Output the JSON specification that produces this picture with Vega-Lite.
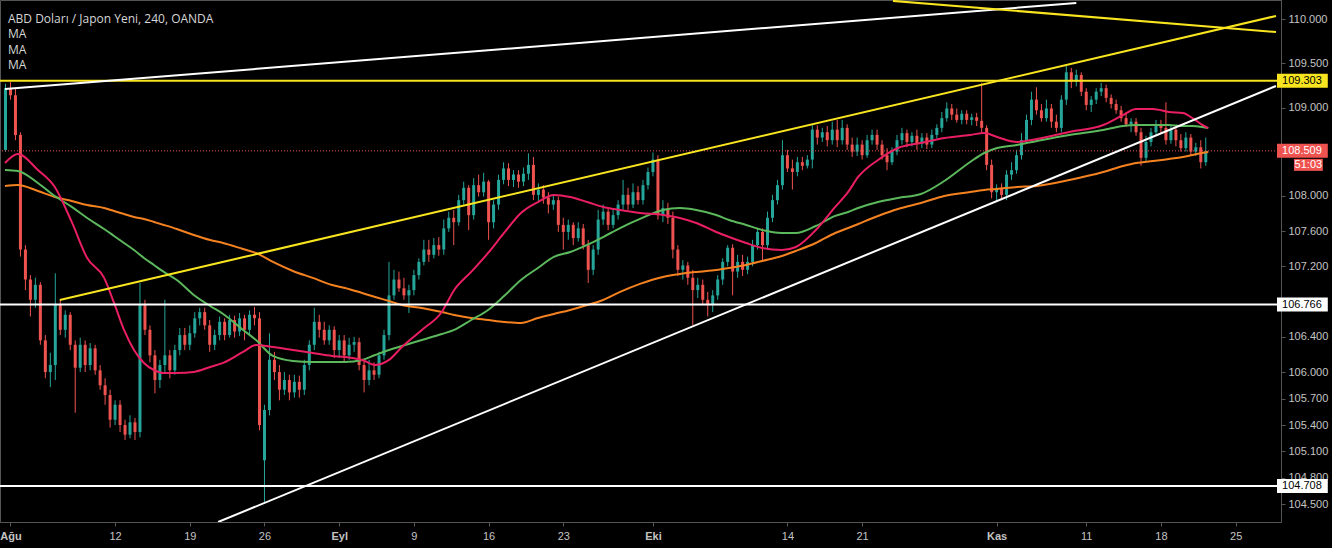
{
"$schema": "https://vega.github.io/schema/vega-lite/v6.json",
"width": 1281,
"height": 522,
"autosize": {"type": "none"},
"padding": {"left": 0, "top": 0, "right": 51, "bottom": 26},
"background": "#000000",
"title": {"text": "ABD Doları / Japon Yeni, 240, OANDA", "subtitle": ["MA", "MA", "MA"], "anchor": "start", "frame": "group", "orient": "top", "offset": -72, "dx": 8, "color": "#d6d6d6", "subtitleColor": "#d6d6d6", "font": "Open Sans", "subtitleFont": "Open Sans", "fontSize": 12, "subtitleFontSize": 12, "fontWeight": "normal", "subtitleLineHeight": 15.5, "subtitlePadding": 3},
"datasets": {
"bars": [
{"i":-1,"o":108.52,"h":109.27,"l":108.50,"c":109.22},
{"i":0,"o":109.22,"h":109.29,"l":109.09,"c":109.14},
{"i":1,"o":109.14,"h":109.22,"l":108.63,"c":108.69},
{"i":2,"o":108.69,"h":108.72,"l":107.31,"c":107.39},
{"i":3,"o":107.39,"h":107.44,"l":106.93,"c":107.05},
{"i":4,"o":107.05,"h":107.10,"l":106.63,"c":106.82},
{"i":5,"o":106.82,"h":107.07,"l":106.73,"c":106.99},
{"i":6,"o":106.99,"h":107.02,"l":106.31,"c":106.36},
{"i":7,"o":106.36,"h":106.42,"l":105.93,"c":106.00},
{"i":8,"o":106.00,"h":106.22,"l":105.83,"c":106.08},
{"i":9,"o":106.08,"h":107.12,"l":105.91,"c":106.76},
{"i":10,"o":106.76,"h":106.82,"l":106.42,"c":106.48},
{"i":11,"o":106.48,"h":106.70,"l":106.39,"c":106.65},
{"i":12,"o":106.65,"h":106.68,"l":106.25,"c":106.31},
{"i":13,"o":106.31,"h":106.36,"l":105.54,"c":106.05},
{"i":14,"o":106.05,"h":106.39,"l":106.00,"c":106.31},
{"i":15,"o":106.31,"h":106.36,"l":106.00,"c":106.08},
{"i":16,"o":106.08,"h":106.33,"l":106.02,"c":106.27},
{"i":17,"o":106.27,"h":106.31,"l":105.97,"c":106.02},
{"i":18,"o":106.02,"h":106.08,"l":105.80,"c":105.85},
{"i":19,"o":105.85,"h":105.93,"l":105.63,"c":105.74},
{"i":20,"o":105.74,"h":105.80,"l":105.37,"c":105.46},
{"i":21,"o":105.46,"h":105.68,"l":105.40,"c":105.63},
{"i":22,"o":105.63,"h":105.68,"l":105.32,"c":105.40},
{"i":23,"o":105.40,"h":105.46,"l":105.23,"c":105.29},
{"i":24,"o":105.29,"h":105.51,"l":105.25,"c":105.43},
{"i":25,"o":105.43,"h":105.48,"l":105.23,"c":105.32},
{"i":26,"o":105.32,"h":107.01,"l":105.26,"c":106.76},
{"i":27,"o":106.76,"h":106.82,"l":106.42,"c":106.48},
{"i":28,"o":106.48,"h":106.53,"l":106.11,"c":106.19},
{"i":29,"o":106.19,"h":106.25,"l":105.76,"c":105.91},
{"i":30,"o":105.91,"h":106.14,"l":105.82,"c":106.08},
{"i":31,"o":106.08,"h":106.82,"l":106.00,"c":106.19},
{"i":32,"o":106.19,"h":106.25,"l":105.93,"c":106.02},
{"i":33,"o":106.02,"h":106.31,"l":105.97,"c":106.25},
{"i":34,"o":106.25,"h":106.50,"l":106.19,"c":106.42},
{"i":35,"o":106.42,"h":106.50,"l":106.25,"c":106.31},
{"i":36,"o":106.31,"h":106.53,"l":106.25,"c":106.44},
{"i":37,"o":106.44,"h":106.68,"l":106.39,"c":106.61},
{"i":38,"o":106.61,"h":106.73,"l":106.53,"c":106.68},
{"i":39,"o":106.68,"h":106.73,"l":106.48,"c":106.53},
{"i":40,"o":106.53,"h":106.59,"l":106.23,"c":106.31},
{"i":41,"o":106.31,"h":106.48,"l":106.25,"c":106.42},
{"i":42,"o":106.42,"h":106.63,"l":106.36,"c":106.57},
{"i":43,"o":106.57,"h":106.61,"l":106.36,"c":106.42},
{"i":44,"o":106.42,"h":106.65,"l":106.39,"c":106.59},
{"i":45,"o":106.59,"h":106.64,"l":106.39,"c":106.46},
{"i":46,"o":106.46,"h":106.67,"l":106.41,"c":106.61},
{"i":47,"o":106.61,"h":106.65,"l":106.36,"c":106.48},
{"i":48,"o":106.48,"h":106.70,"l":106.43,"c":106.65},
{"i":49,"o":106.65,"h":106.74,"l":106.53,"c":106.61},
{"i":50,"o":106.61,"h":106.68,"l":105.34,"c":105.40},
{"i":51,"o":105.00,"h":105.63,"l":104.52,"c":105.57},
{"i":52,"o":105.57,"h":106.44,"l":105.51,"c":106.14},
{"i":53,"o":106.14,"h":106.23,"l":105.91,"c":106.00},
{"i":54,"o":106.00,"h":106.08,"l":105.68,"c":105.80},
{"i":55,"o":105.80,"h":106.00,"l":105.74,"c":105.91},
{"i":56,"o":105.91,"h":105.97,"l":105.68,"c":105.77},
{"i":57,"o":105.77,"h":105.97,"l":105.71,"c":105.89},
{"i":58,"o":105.89,"h":105.96,"l":105.71,"c":105.80},
{"i":59,"o":105.80,"h":106.14,"l":105.74,"c":106.08},
{"i":60,"o":106.08,"h":106.36,"l":106.02,"c":106.31},
{"i":61,"o":106.31,"h":106.73,"l":106.25,"c":106.57},
{"i":62,"o":106.57,"h":106.65,"l":106.39,"c":106.48},
{"i":63,"o":106.48,"h":106.57,"l":106.31,"c":106.36},
{"i":64,"o":106.36,"h":106.53,"l":106.31,"c":106.48},
{"i":65,"o":106.48,"h":106.52,"l":106.16,"c":106.25},
{"i":66,"o":106.25,"h":106.42,"l":106.16,"c":106.36},
{"i":67,"o":106.36,"h":106.42,"l":106.11,"c":106.19},
{"i":68,"o":106.19,"h":106.39,"l":106.14,"c":106.31},
{"i":69,"o":106.31,"h":106.40,"l":106.23,"c":106.34},
{"i":70,"o":106.34,"h":106.39,"l":106.02,"c":106.08},
{"i":71,"o":106.08,"h":106.14,"l":105.77,"c":105.91},
{"i":72,"o":105.91,"h":106.14,"l":105.85,"c":106.02},
{"i":73,"o":106.02,"h":106.11,"l":105.91,"c":105.97},
{"i":74,"o":105.97,"h":106.23,"l":105.93,"c":106.19},
{"i":75,"o":106.19,"h":106.48,"l":106.14,"c":106.42},
{"i":76,"o":106.42,"h":107.25,"l":106.36,"c":106.87},
{"i":77,"o":106.87,"h":107.16,"l":106.82,"c":107.05},
{"i":78,"o":107.05,"h":107.14,"l":106.91,"c":106.95},
{"i":79,"o":106.95,"h":107.07,"l":106.82,"c":106.87},
{"i":80,"o":106.87,"h":106.99,"l":106.67,"c":106.93},
{"i":81,"o":106.93,"h":107.16,"l":106.87,"c":107.10},
{"i":82,"o":107.10,"h":107.29,"l":107.05,"c":107.25},
{"i":83,"o":107.25,"h":107.50,"l":107.21,"c":107.39},
{"i":84,"o":107.39,"h":107.50,"l":107.25,"c":107.33},
{"i":85,"o":107.33,"h":107.52,"l":107.29,"c":107.44},
{"i":86,"o":107.44,"h":107.53,"l":107.32,"c":107.39},
{"i":87,"o":107.39,"h":107.73,"l":107.33,"c":107.63},
{"i":88,"o":107.63,"h":107.82,"l":107.59,"c":107.75},
{"i":89,"o":107.75,"h":107.84,"l":107.44,"c":107.70},
{"i":90,"o":107.70,"h":108.01,"l":107.66,"c":107.95},
{"i":91,"o":107.95,"h":108.16,"l":107.90,"c":108.09},
{"i":92,"o":108.09,"h":108.12,"l":107.61,"c":107.78},
{"i":93,"o":107.78,"h":108.20,"l":107.73,"c":108.12},
{"i":94,"o":108.12,"h":108.24,"l":107.99,"c":108.04},
{"i":95,"o":108.04,"h":108.26,"l":107.99,"c":108.16},
{"i":96,"o":108.16,"h":108.18,"l":107.50,"c":107.70},
{"i":97,"o":107.70,"h":107.95,"l":107.63,"c":107.90},
{"i":98,"o":107.90,"h":108.24,"l":107.84,"c":108.18},
{"i":99,"o":108.18,"h":108.38,"l":108.13,"c":108.31},
{"i":100,"o":108.31,"h":108.37,"l":108.11,"c":108.18},
{"i":101,"o":108.18,"h":108.29,"l":108.10,"c":108.24},
{"i":102,"o":108.24,"h":108.29,"l":108.09,"c":108.16},
{"i":103,"o":108.16,"h":108.32,"l":108.11,"c":108.25},
{"i":104,"o":108.25,"h":108.48,"l":108.18,"c":108.35},
{"i":105,"o":108.35,"h":108.44,"l":107.95,"c":108.01},
{"i":106,"o":108.01,"h":108.14,"l":107.92,"c":108.07},
{"i":107,"o":108.07,"h":108.12,"l":107.91,"c":107.98},
{"i":108,"o":107.98,"h":108.04,"l":107.80,"c":107.90},
{"i":109,"o":107.90,"h":108.00,"l":107.84,"c":107.95},
{"i":110,"o":107.95,"h":107.99,"l":107.59,"c":107.67},
{"i":111,"o":107.67,"h":107.75,"l":107.39,"c":107.59},
{"i":112,"o":107.59,"h":107.73,"l":107.50,"c":107.67},
{"i":113,"o":107.67,"h":107.70,"l":107.44,"c":107.52},
{"i":114,"o":107.52,"h":107.70,"l":107.48,"c":107.63},
{"i":115,"o":107.63,"h":107.68,"l":107.39,"c":107.44},
{"i":116,"o":107.44,"h":107.50,"l":107.01,"c":107.16},
{"i":117,"o":107.16,"h":107.44,"l":107.10,"c":107.39},
{"i":118,"o":107.39,"h":107.84,"l":107.33,"c":107.73},
{"i":119,"o":107.73,"h":107.90,"l":107.67,"c":107.82},
{"i":120,"o":107.82,"h":107.86,"l":107.61,"c":107.67},
{"i":121,"o":107.67,"h":107.86,"l":107.63,"c":107.78},
{"i":122,"o":107.78,"h":107.95,"l":107.73,"c":107.90},
{"i":123,"o":107.90,"h":108.18,"l":107.84,"c":108.01},
{"i":124,"o":108.01,"h":108.09,"l":107.84,"c":107.90},
{"i":125,"o":107.90,"h":108.14,"l":107.86,"c":108.04},
{"i":126,"o":108.04,"h":108.11,"l":107.90,"c":107.95},
{"i":127,"o":107.95,"h":108.18,"l":107.90,"c":108.12},
{"i":128,"o":108.12,"h":108.32,"l":108.07,"c":108.27},
{"i":129,"o":108.27,"h":108.49,"l":108.22,"c":108.41},
{"i":130,"o":108.41,"h":108.46,"l":107.73,"c":107.78},
{"i":131,"o":107.78,"h":107.95,"l":107.70,"c":107.86},
{"i":132,"o":107.86,"h":107.92,"l":107.68,"c":107.75},
{"i":133,"o":107.75,"h":107.82,"l":107.29,"c":107.39},
{"i":134,"o":107.39,"h":107.44,"l":107.09,"c":107.16},
{"i":135,"o":107.16,"h":107.27,"l":107.05,"c":107.21},
{"i":136,"o":107.21,"h":107.25,"l":106.99,"c":107.07},
{"i":137,"o":107.07,"h":107.16,"l":106.53,"c":106.93},
{"i":138,"o":106.93,"h":107.07,"l":106.84,"c":106.99},
{"i":139,"o":106.99,"h":107.05,"l":106.76,"c":106.82},
{"i":140,"o":106.82,"h":106.91,"l":106.63,"c":106.76},
{"i":141,"o":106.76,"h":106.93,"l":106.68,"c":106.87},
{"i":142,"o":106.87,"h":107.10,"l":106.82,"c":107.05},
{"i":143,"o":107.05,"h":107.29,"l":106.99,"c":107.25},
{"i":144,"o":107.25,"h":107.44,"l":107.20,"c":107.41},
{"i":145,"o":107.41,"h":107.45,"l":106.87,"c":107.14},
{"i":146,"o":107.14,"h":107.33,"l":107.07,"c":107.25},
{"i":147,"o":107.25,"h":107.33,"l":107.09,"c":107.16},
{"i":148,"o":107.16,"h":107.31,"l":107.11,"c":107.25},
{"i":149,"o":107.25,"h":107.50,"l":107.20,"c":107.44},
{"i":150,"o":107.44,"h":107.63,"l":107.39,"c":107.59},
{"i":151,"o":107.59,"h":107.63,"l":107.25,"c":107.44},
{"i":152,"o":107.44,"h":107.82,"l":107.39,"c":107.75},
{"i":153,"o":107.75,"h":108.01,"l":107.70,"c":107.95},
{"i":154,"o":107.95,"h":108.18,"l":107.90,"c":108.12},
{"i":155,"o":108.12,"h":108.63,"l":108.07,"c":108.46},
{"i":156,"o":108.46,"h":108.52,"l":108.27,"c":108.31},
{"i":157,"o":108.31,"h":108.41,"l":108.07,"c":108.27},
{"i":158,"o":108.27,"h":108.44,"l":108.22,"c":108.38},
{"i":159,"o":108.38,"h":108.44,"l":108.29,"c":108.34},
{"i":160,"o":108.34,"h":108.46,"l":108.31,"c":108.41},
{"i":161,"o":108.41,"h":108.80,"l":108.31,"c":108.75},
{"i":162,"o":108.75,"h":108.80,"l":108.58,"c":108.66},
{"i":163,"o":108.66,"h":108.77,"l":108.61,"c":108.72},
{"i":164,"o":108.72,"h":108.79,"l":108.56,"c":108.63},
{"i":165,"o":108.63,"h":108.84,"l":108.58,"c":108.75},
{"i":166,"o":108.75,"h":108.86,"l":108.55,"c":108.63},
{"i":167,"o":108.63,"h":108.86,"l":108.58,"c":108.77},
{"i":168,"o":108.77,"h":108.81,"l":108.52,"c":108.58},
{"i":169,"o":108.58,"h":108.66,"l":108.44,"c":108.50},
{"i":170,"o":108.50,"h":108.66,"l":108.45,"c":108.58},
{"i":171,"o":108.58,"h":108.63,"l":108.41,"c":108.46},
{"i":172,"o":108.46,"h":108.69,"l":108.43,"c":108.63},
{"i":173,"o":108.63,"h":108.75,"l":108.58,"c":108.69},
{"i":174,"o":108.69,"h":108.75,"l":108.52,"c":108.58},
{"i":175,"o":108.58,"h":108.63,"l":108.41,"c":108.46},
{"i":176,"o":108.46,"h":108.54,"l":108.29,"c":108.38},
{"i":177,"o":108.38,"h":108.55,"l":108.35,"c":108.50},
{"i":178,"o":108.50,"h":108.69,"l":108.46,"c":108.63},
{"i":179,"o":108.63,"h":108.77,"l":108.58,"c":108.71},
{"i":180,"o":108.71,"h":108.75,"l":108.55,"c":108.61},
{"i":181,"o":108.61,"h":108.72,"l":108.56,"c":108.68},
{"i":182,"o":108.68,"h":108.75,"l":108.52,"c":108.59},
{"i":183,"o":108.59,"h":108.71,"l":108.54,"c":108.66},
{"i":184,"o":108.66,"h":108.71,"l":108.53,"c":108.58},
{"i":185,"o":108.58,"h":108.75,"l":108.54,"c":108.69},
{"i":186,"o":108.69,"h":108.81,"l":108.65,"c":108.77},
{"i":187,"o":108.77,"h":108.95,"l":108.72,"c":108.88},
{"i":188,"o":108.88,"h":109.06,"l":108.84,"c":108.99},
{"i":189,"o":108.99,"h":109.04,"l":108.86,"c":108.92},
{"i":190,"o":108.92,"h":108.99,"l":108.83,"c":108.86},
{"i":191,"o":108.86,"h":108.97,"l":108.81,"c":108.93},
{"i":192,"o":108.93,"h":108.97,"l":108.81,"c":108.86},
{"i":193,"o":108.86,"h":108.93,"l":108.80,"c":108.89},
{"i":194,"o":108.89,"h":108.94,"l":108.79,"c":108.85},
{"i":195,"o":108.85,"h":109.28,"l":108.72,"c":108.77},
{"i":196,"o":108.77,"h":108.80,"l":108.29,"c":108.35},
{"i":197,"o":108.35,"h":108.41,"l":107.97,"c":108.04},
{"i":198,"o":108.04,"h":108.13,"l":107.93,"c":108.09},
{"i":199,"o":108.09,"h":108.14,"l":107.95,"c":108.01},
{"i":200,"o":108.01,"h":108.29,"l":107.95,"c":108.24},
{"i":201,"o":108.24,"h":108.38,"l":108.18,"c":108.29},
{"i":202,"o":108.29,"h":108.52,"l":108.25,"c":108.46},
{"i":203,"o":108.46,"h":108.71,"l":108.41,"c":108.63},
{"i":204,"o":108.63,"h":108.92,"l":108.59,"c":108.86},
{"i":205,"o":108.86,"h":109.18,"l":108.80,"c":109.09},
{"i":206,"o":109.09,"h":109.23,"l":108.92,"c":108.97},
{"i":207,"o":108.97,"h":109.04,"l":108.84,"c":108.88},
{"i":208,"o":108.88,"h":109.09,"l":108.84,"c":108.99},
{"i":209,"o":108.99,"h":109.04,"l":108.77,"c":108.84},
{"i":210,"o":108.84,"h":108.92,"l":108.72,"c":108.77},
{"i":211,"o":108.77,"h":109.14,"l":108.72,"c":109.09},
{"i":212,"o":109.09,"h":109.48,"l":109.03,"c":109.40},
{"i":213,"o":109.40,"h":109.45,"l":109.22,"c":109.29},
{"i":214,"o":109.29,"h":109.43,"l":109.24,"c":109.37},
{"i":215,"o":109.37,"h":109.40,"l":109.13,"c":109.18},
{"i":216,"o":109.18,"h":109.22,"l":108.97,"c":109.03},
{"i":217,"o":109.03,"h":109.13,"l":108.95,"c":109.09},
{"i":218,"o":109.09,"h":109.22,"l":109.04,"c":109.18},
{"i":219,"o":109.18,"h":109.28,"l":109.13,"c":109.22},
{"i":220,"o":109.22,"h":109.26,"l":109.06,"c":109.11},
{"i":221,"o":109.11,"h":109.15,"l":108.99,"c":109.04},
{"i":222,"o":109.04,"h":109.09,"l":108.93,"c":108.97},
{"i":223,"o":108.97,"h":109.02,"l":108.84,"c":108.88},
{"i":224,"o":108.88,"h":108.95,"l":108.78,"c":108.81},
{"i":225,"o":108.81,"h":108.88,"l":108.72,"c":108.84},
{"i":226,"o":108.84,"h":108.88,"l":108.68,"c":108.72},
{"i":227,"o":108.72,"h":108.77,"l":108.34,"c":108.43},
{"i":228,"o":108.43,"h":108.68,"l":108.38,"c":108.61},
{"i":229,"o":108.61,"h":108.77,"l":108.56,"c":108.72},
{"i":230,"o":108.72,"h":108.86,"l":108.68,"c":108.81},
{"i":231,"o":108.81,"h":108.86,"l":108.70,"c":108.77},
{"i":232,"o":108.77,"h":109.06,"l":108.58,"c":108.63},
{"i":233,"o":108.63,"h":108.81,"l":108.59,"c":108.75},
{"i":234,"o":108.75,"h":108.80,"l":108.56,"c":108.63},
{"i":235,"o":108.63,"h":108.70,"l":108.50,"c":108.54},
{"i":236,"o":108.54,"h":108.72,"l":108.50,"c":108.66},
{"i":237,"o":108.66,"h":108.70,"l":108.45,"c":108.50},
{"i":238,"o":108.50,"h":108.60,"l":108.45,"c":108.55},
{"i":239,"o":108.55,"h":108.63,"l":108.31,"c":108.38},
{"i":240,"o":108.38,"h":108.66,"l":108.34,"c":108.509}
],
"ma": [
{"i":-1.1,"m1":108.372,"m2":108.292,"m3":108.111},
{"i":1.5,"m1":108.474,"m2":108.281,"m3":108.122},
{"i":5.5,"m1":108.292,"m2":108.145,"m3":108.054},
{"i":8.9,"m1":108.099,"m2":107.997,"m3":107.986},
{"i":12.3,"m1":107.703,"m2":107.873,"m3":107.941},
{"i":15.4,"m1":107.294,"m2":107.748,"m3":107.895},
{"i":18.8,"m1":107.068,"m2":107.623,"m3":107.861},
{"i":20.8,"m1":106.784,"m2":107.544,"m3":107.827},
{"i":22.8,"m1":106.478,"m2":107.464,"m3":107.793},
{"i":24.8,"m1":106.251,"m2":107.385,"m3":107.759},
{"i":26.8,"m1":106.104,"m2":107.294,"m3":107.737},
{"i":28.8,"m1":106.024,"m2":107.215,"m3":107.703},
{"i":30.8,"m1":105.990,"m2":107.136,"m3":107.669},
{"i":33.4,"m1":105.990,"m2":107.045,"m3":107.623},
{"i":36.8,"m1":106.002,"m2":106.875,"m3":107.555},
{"i":40.1,"m1":106.058,"m2":106.750,"m3":107.498},
{"i":42.7,"m1":106.104,"m2":106.659,"m3":107.464},
{"i":46.7,"m1":106.228,"m2":106.478,"m3":107.396},
{"i":49.3,"m1":106.308,"m2":106.364,"m3":107.351},
{"i":52.7,"m1":106.285,"m2":106.183,"m3":107.249},
{"i":56.7,"m1":106.251,"m2":106.126,"m3":107.147},
{"i":60.7,"m1":106.217,"m2":106.115,"m3":107.068},
{"i":64.6,"m1":106.183,"m2":106.115,"m3":106.988},
{"i":67.2,"m1":106.172,"m2":106.115,"m3":106.954},
{"i":70.6,"m1":106.138,"m2":106.138,"m3":106.897},
{"i":73.2,"m1":106.081,"m2":106.194,"m3":106.852},
{"i":76.0,"m1":106.138,"m2":106.251,"m3":106.807},
{"i":78.6,"m1":106.285,"m2":106.296,"m3":106.761},
{"i":82.6,"m1":106.478,"m2":106.364,"m3":106.727},
{"i":86.6,"m1":106.682,"m2":106.432,"m3":106.682},
{"i":89.1,"m1":106.931,"m2":106.478,"m3":106.648},
{"i":92.5,"m1":107.136,"m2":106.591,"m3":106.614},
{"i":95.9,"m1":107.351,"m2":106.705,"m3":106.591},
{"i":99.1,"m1":107.578,"m2":106.863,"m3":106.569},
{"i":102.5,"m1":107.805,"m2":107.045,"m3":106.557},
{"i":105.9,"m1":107.929,"m2":107.181,"m3":106.614},
{"i":109.1,"m1":108.009,"m2":107.306,"m3":106.659},
{"i":112.4,"m1":107.986,"m2":107.362,"m3":106.705},
{"i":115.8,"m1":107.929,"m2":107.442,"m3":106.761},
{"i":119.0,"m1":107.873,"m2":107.532,"m3":106.818},
{"i":122.4,"m1":107.839,"m2":107.634,"m3":106.909},
{"i":126.4,"m1":107.805,"m2":107.737,"m3":107.000},
{"i":131.0,"m1":107.782,"m2":107.839,"m3":107.079},
{"i":134.4,"m1":107.748,"m2":107.861,"m3":107.113},
{"i":137.7,"m1":107.691,"m2":107.839,"m3":107.136},
{"i":141.7,"m1":107.589,"m2":107.782,"m3":107.158},
{"i":144.3,"m1":107.532,"m2":107.725,"m3":107.181},
{"i":147.7,"m1":107.464,"m2":107.669,"m3":107.215},
{"i":150.9,"m1":107.408,"m2":107.612,"m3":107.260},
{"i":154.9,"m1":107.385,"m2":107.578,"m3":107.317},
{"i":157.7,"m1":107.419,"m2":107.578,"m3":107.374},
{"i":161.7,"m1":107.612,"m2":107.657,"m3":107.464},
{"i":165.6,"m1":107.873,"m2":107.771,"m3":107.578},
{"i":168.2,"m1":108.043,"m2":107.816,"m3":107.634},
{"i":170.2,"m1":108.213,"m2":107.861,"m3":107.680},
{"i":174.2,"m1":108.406,"m2":107.929,"m3":107.771},
{"i":178.2,"m1":108.542,"m2":107.975,"m3":107.850},
{"i":182.8,"m1":108.598,"m2":108.020,"m3":107.918},
{"i":187.5,"m1":108.655,"m2":108.167,"m3":107.997},
{"i":192.7,"m1":108.689,"m2":108.383,"m3":108.043},
{"i":195.5,"m1":108.712,"m2":108.485,"m3":108.065},
{"i":198.1,"m1":108.666,"m2":108.542,"m3":108.077},
{"i":202.1,"m1":108.610,"m2":108.576,"m3":108.099},
{"i":206.1,"m1":108.644,"m2":108.621,"m3":108.111},
{"i":212.6,"m1":108.723,"m2":108.689,"m3":108.179},
{"i":219.4,"m1":108.803,"m2":108.746,"m3":108.270},
{"i":223.4,"m1":108.916,"m2":108.791,"m3":108.338},
{"i":226.0,"m1":108.984,"m2":108.803,"m3":108.372},
{"i":229.4,"m1":108.984,"m2":108.803,"m3":108.394},
{"i":232.6,"m1":108.950,"m2":108.803,"m3":108.417},
{"i":235.4,"m1":108.939,"m2":108.791,"m3":108.440},
{"i":237.3,"m1":108.882,"m2":108.791,"m3":108.462},
{"i":239.3,"m1":108.803,"m2":108.780,"m3":108.485},
{"i":240.5,"m1":108.768,"m2":108.768,"m3":108.496}
],
"trend": [
{"id":"w1","i":-1.1,"p":109.21},{"id":"w1","i":214.0,"p":110.186},
{"id":"y2","i":177.2,"p":110.21},{"id":"y2","i":254.1,"p":109.857},
{"id":"y1","i":9.9,"p":106.818},{"id":"y1","i":254.1,"p":110.039},
{"id":"w2","i":41.7,"p":104.30},{"id":"w2","i":254.1,"p":109.245}
],
"levels": [
{"p":109.303,"label":"109.303","kind":"res"},
{"p":108.509,"label":"108.509","kind":"last"},
{"p":106.766,"label":"106.766","kind":"sup"},
{"p":104.708,"label":"104.708","kind":"sup"}
],
"timer": [
{"p":108.509,"label":"51:03"}
]
},
"layer": [
{
"data": {"name": "bars"},
"mark": {"type": "rule", "strokeWidth": 1, "clip": true},
"encoding": {
"x": {"field": "i", "type": "quantitative", "title": null, "scale": {"domain": [-1.1, 254.1], "nice": false, "zero": false},
"axis": {"title": null, "values": [0, 21, 36, 51, 66, 81, 96, 111, 129, 156, 171, 198, 216, 231, 246],
"labelExpr": "datum.value==0?'Ağu':datum.value==21?'12':datum.value==36?'19':datum.value==51?'26':datum.value==66?'Eyl':datum.value==81?'9':datum.value==96?'16':datum.value==111?'23':datum.value==129?'Eki':datum.value==156?'14':datum.value==171?'21':datum.value==198?'Kas':datum.value==216?'11':datum.value==231?'18':'25'",
"labelFontWeight": {"condition": {"test": "datum.value==0||datum.value==66||datum.value==129||datum.value==198", "value": "bold"}, "value": "normal"},
"tickSize": 4, "labelPadding": 4, "labelFlush": false, "labelOverlap": false, "labelBound": false, "grid": false}},
"y": {"field": "l", "type": "quantitative", "title": null, "scale": {"domain": [104.30, 110.22], "nice": false, "zero": false},
"axis": {"title": null, "orient": "right", "values": [110, 109.5, 109, 108, 107.6, 107.2, 106.4, 106, 105.7, 105.4, 105.1, 104.8, 104.5], "format": ".3f", "tickSize": 4, "labelPadding": 3, "labelOverlap": false, "labelBound": false, "grid": false}},
"y2": {"field": "h"},
"color": {"condition": {"test": "datum.c >= datum.o", "value": "#26a69a"}, "value": "#ef5350"}
}
},
{
"data": {"name": "bars"},
"mark": {"type": "bar", "width": 3, "clip": true},
"encoding": {
"x": {"field": "i", "type": "quantitative", "title": null},
"y": {"field": "o", "type": "quantitative", "title": null},
"y2": {"field": "c"},
"color": {"condition": {"test": "datum.c >= datum.o", "value": "#26a69a"}, "value": "#ef5350"}
}
},
{
"data": {"name": "ma"},
"mark": {"type": "line", "strokeWidth": 2, "clip": true, "interpolate": "monotone", "color": "#f58220"},
"encoding": {
"x": {"field": "i", "type": "quantitative", "title": null},
"y": {"field": "m3", "type": "quantitative", "title": null}
}
},
{
"data": {"name": "ma"},
"mark": {"type": "line", "strokeWidth": 2, "clip": true, "interpolate": "monotone", "color": "#5cb85c"},
"encoding": {
"x": {"field": "i", "type": "quantitative", "title": null},
"y": {"field": "m2", "type": "quantitative", "title": null}
}
},
{
"data": {"name": "ma"},
"mark": {"type": "line", "strokeWidth": 2, "clip": true, "interpolate": "monotone", "color": "#e91e63"},
"encoding": {
"x": {"field": "i", "type": "quantitative", "title": null},
"y": {"field": "m1", "type": "quantitative", "title": null}
}
},
{
"data": {"name": "levels"},
"transform": [{"filter": "datum.kind == 'last'"}],
"mark": {"type": "rule", "strokeWidth": 1, "strokeDash": [1, 2], "color": "#ef5350"},
"encoding": {
"y": {"field": "p", "type": "quantitative", "title": null}
}
},
{
"data": {"name": "levels"},
"transform": [{"filter": "datum.kind != 'last'"}],
"mark": {"type": "rule", "strokeWidth": 2},
"encoding": {
"y": {"field": "p", "type": "quantitative", "title": null},
"color": {"field": "kind", "type": "nominal", "legend": null, "scale": {"domain": ["w1", "w2", "y1", "y2", "res", "sup", "last"], "range": ["#ffffff", "#ffffff", "#f9e51f", "#f9e51f", "#f9e51f", "#ffffff", "#ef5350"]}}
}
},
{
"data": {"name": "trend"},
"mark": {"type": "line", "strokeWidth": 2, "clip": true},
"encoding": {
"x": {"field": "i", "type": "quantitative", "title": null},
"y": {"field": "p", "type": "quantitative", "title": null},
"detail": {"field": "id"},
"color": {"field": "id", "type": "nominal", "legend": null, "scale": {"domain": ["w1", "w2", "y1", "y2", "res", "sup", "last"], "range": ["#ffffff", "#ffffff", "#f9e51f", "#f9e51f", "#f9e51f", "#ffffff", "#ef5350"]}}
}
},
{
"data": {"name": "levels"},
"mark": {"type": "rule", "strokeWidth": 14, "strokeCap": "butt"},
"encoding": {
"x": {"datum": 254.3},
"x2": {"datum": 264.5},
"y": {"field": "p", "type": "quantitative", "title": null},
"color": {"field": "kind", "type": "nominal", "legend": null, "scale": {"domain": ["w1", "w2", "y1", "y2", "res", "sup", "last"], "range": ["#ffffff", "#ffffff", "#f9e51f", "#f9e51f", "#f9e51f", "#ffffff", "#ef5350"]}}
}
},
{
"data": {"name": "levels"},
"transform": [{"filter": "datum.kind != 'last'"}],
"mark": {"type": "text", "font": "Liberation Sans", "fontSize": 11, "align": "center", "baseline": "middle", "color": "#000000"},
"encoding": {
"x": {"datum": 259.3},
"y": {"field": "p", "type": "quantitative", "title": null},
"text": {"field": "label"}
}
},
{
"data": {"name": "levels"},
"transform": [{"filter": "datum.kind == 'last'"}],
"mark": {"type": "text", "font": "Liberation Sans", "fontSize": 11, "align": "center", "baseline": "middle", "color": "#ffffff"},
"encoding": {
"x": {"datum": 259.3},
"y": {"field": "p", "type": "quantitative", "title": null},
"text": {"field": "label"}
}
},
{
"data": {"name": "timer"},
"mark": {"type": "rule", "strokeWidth": 12, "strokeCap": "butt", "color": "#ef5350", "yOffset": 14},
"encoding": {
"x": {"datum": 257.7},
"x2": {"datum": 263.5},
"y": {"field": "p", "type": "quantitative", "title": null}
}
},
{
"data": {"name": "timer"},
"mark": {"type": "text", "font": "Liberation Sans", "fontSize": 11, "align": "center", "baseline": "middle", "color": "#ffffff", "yOffset": 14},
"encoding": {
"x": {"datum": 260.6},
"y": {"field": "p", "type": "quantitative", "title": null},
"text": {"field": "label"}
}
}
],
"config": {
"view": {"stroke": "#555555", "strokeWidth": 1},
"axis": {"domainColor": "#555555", "tickColor": "#555555", "labelColor": "#c4c4c4", "labelFont": "Liberation Sans", "labelFontSize": 11, "grid": false}
}
}
